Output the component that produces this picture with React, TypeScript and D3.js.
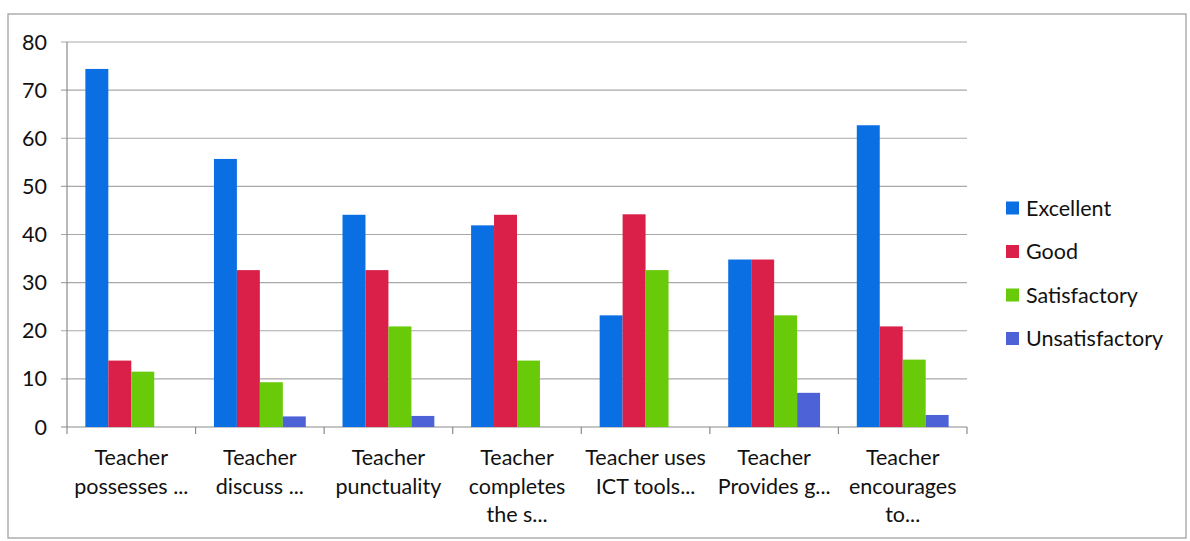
import React from "react";
import * as d3 from "d3";

const categories: string[][] = [
  ["Teacher", "possesses ..."],
  ["Teacher", "discuss ..."],
  ["Teacher", "punctuality"],
  ["Teacher", "completes", "the s..."],
  ["Teacher uses", "ICT tools..."],
  ["Teacher", "Provides g..."],
  ["Teacher", "encourages", "to..."],
];
const seriesNames = ["Excellent", "Good", "Satisfactory", "Unsatisfactory"];
const excellent = [74.4, 55.7, 44.1, 41.9, 23.2, 34.8, 62.7];
const good = [13.8, 32.6, 32.6, 44.1, 44.2, 34.8, 20.9];
const satisfactory = [11.5, 9.3, 20.9, 13.8, 32.6, 23.2, 14.0];
const unsatisfactory = [0, 2.2, 2.3, 0, 0, 7.1, 2.5];
const yTicks = [0, 10, 20, 30, 40, 50, 60, 70, 80];
const colors = ["#0A6FE2", "#DA2048", "#68CA08", "#4E62D8"];

export default function App() {
  const W = 1190, H = 541;
  const left = 67, right = 967, top = 42, bottom = 427;
  const font = "Lato, 'Open Sans', sans-serif";
  const fs = 21.5;
  const x = d3.scaleBand<number>().domain(d3.range(categories.length)).range([left, right]).paddingInner(0).paddingOuter(0);
  const inner = d3.scaleBand<number>().domain(d3.range(4)).range([0, x.bandwidth()]).paddingInner(0).paddingOuter(0.8);
  const y = d3.scaleLinear().domain([0, 80]).range([bottom, top]);
  const series = [excellent, good, satisfactory, unsatisfactory];

  return (
    <svg width={W} height={H} style={{ position: "absolute", left: 0, top: 0, background: "#fff" }}>
      <rect x={8} y={14} width={1178} height={524} fill="#fff" stroke="#9a9a9a" strokeWidth={1.2} />
      {yTicks.map((t) => (
        <g key={t}>
          <line x1={left - 6} x2={right} y1={y(t)} y2={y(t)} stroke={t === 0 ? "#8a8a8a" : "#a8a8a8"} strokeWidth={1.2} />
          <text x={47} y={y(t)} dy="0.35em" textAnchor="end" fontFamily={font} fontSize={fs} fill="#111">{t}</text>
        </g>
      ))}
      <line x1={left} x2={left} y1={top} y2={bottom} stroke="#8a8a8a" strokeWidth={1.2} />
      {d3.range(categories.length + 1).map((i) => {
        const xx = i < categories.length ? (x(i) as number) : right;
        return <line key={i} x1={xx} x2={xx} y1={bottom} y2={bottom + 7} stroke="#8a8a8a" strokeWidth={1.2} />;
      })}
      {series.map((vals, si) =>
        vals.map((v, ci) =>
          v > 0 ? (
            <rect
              key={`${si}-${ci}`}
              x={(x(ci) as number) + (inner(si) as number)}
              y={y(v)}
              width={inner.bandwidth()}
              height={y(0) - y(v)}
              fill={colors[si]}
            />
          ) : null
        )
      )}
      {categories.map((lines, ci) => (
        <text key={ci} x={(x(ci) as number) + x.bandwidth() / 2} y={465} textAnchor="middle" fontFamily={font} fontSize={fs} fill="#111">
          {lines.map((l, li) => (
            <tspan key={li} x={(x(ci) as number) + x.bandwidth() / 2} dy={li === 0 ? 0 : 28.5}>{l}</tspan>
          ))}
        </text>
      ))}
      {seriesNames.map((n, i) => (
        <g key={n} transform={`translate(1006, ${208 + i * 43.5})`}>
          <rect x={0} y={-6.5} width={13} height={13} fill={colors[i]} />
          <text x={20} y={0} dy="0.35em" fontFamily={font} fontSize={fs} fill="#111">{n}</text>
        </g>
      ))}
    </svg>
  );
}
